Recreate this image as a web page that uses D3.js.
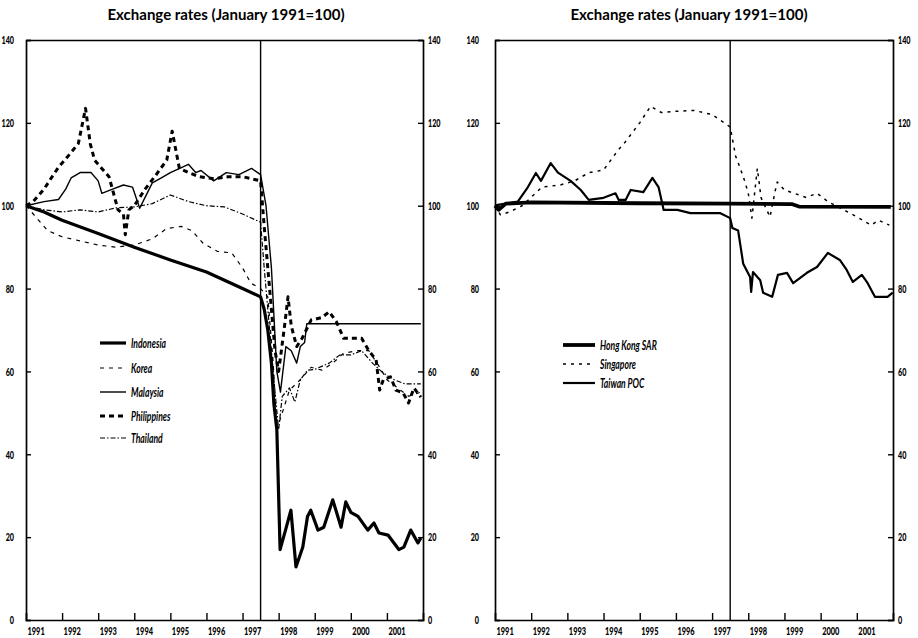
<!DOCTYPE html>
<html>
<head>
<meta charset="utf-8">
<script src="https://cdn.jsdelivr.net/npm/d3@7"></script>
<style>
  body { margin: 0; background: #fff; }
  svg { display: block; }
  .title { font-family: Lato, "Open Sans", sans-serif; font-weight: 700; font-size: 15px; }
  .tick text { font-family: Lato, sans-serif; font-weight: 900; font-size: 12px; fill: #000; }
  .legend text { font-family: Lato, sans-serif; font-style: italic; font-weight: 700; font-size: 13px; }
</style>
</head>
<body>
<script>
// year ticks and y ticks
var years = [1991, 1992, 1993, 1994, 1995, 1996, 1997, 1998, 1999, 2000, 2001];
var yTicks = [0, 20, 40, 60, 80, 100, 120, 140];
var crisisDate = 1997.5;

// left panel series  [year, index]
var indonesia = [[1991.0,100],[1991.5,98.5],[1992.0,96.5],[1993.0,93.3],[1994.0,90],[1995.0,86.9],[1996.0,84],
  [1996.5,82],[1997.0,80],[1997.5,78],[1997.6,75],[1997.7,70],[1997.8,62],[1997.87,52],[1997.95,46],[1998.04,17],
  [1998.2,22],[1998.34,26.5],[1998.48,12.8],[1998.67,17.6],[1998.8,25],[1998.89,26.5],[1999.09,21.7],[1999.25,22.4],
  [1999.5,29],[1999.73,22.4],[1999.86,28.5],[2000.0,26],[2000.2,25],[2000.47,21.7],[2000.64,23.4],[2000.78,21],
  [2001.03,20.5],[2001.33,17],[2001.47,17.6],[2001.66,21.7],[2001.86,18.6],[2001.94,19.8]];
var korea = [[1991.0,100],[1991.3,97],[1991.6,94],[1992.0,92.5],[1992.5,91.5],[1993.0,90.5],[1993.5,90],[1994.0,90.5],
  [1994.5,92],[1994.9,94.5],[1995.3,95],[1995.6,94],[1995.9,91],[1996.3,89],[1996.7,88.6],[1997.0,85],[1997.23,81.3],
  [1997.5,80],[1997.7,78],[1997.85,62],[1997.95,46],[1998.1,50],[1998.3,55.5],[1998.6,58],[1998.9,61],[1999.2,60.3],
  [1999.5,62],[1999.8,64.4],[2000.2,65],[2000.5,65],[2000.8,61],[2001.0,58],[2001.3,56],[2001.6,54],[2001.94,55]];
var malaysia = [[1991.0,100],[1991.5,101],[1991.9,101.5],[1992.1,104],[1992.25,106.7],[1992.5,108],[1992.8,108],
  [1993.0,106],[1993.1,103],[1993.4,104],[1993.7,105],[1993.95,104.5],[1994.15,99.4],[1994.3,102],[1994.5,105.5],
  [1994.75,106.7],[1995.0,108],[1995.5,110],[1995.7,108],[1995.85,108.5],[1996.2,106],[1996.55,108],[1996.9,107.5],
  [1997.25,109],[1997.5,107.5],[1997.65,100],[1997.8,85],[1997.95,60],[1998.05,55],[1998.2,66],[1998.35,65],
  [1998.5,62],[1998.6,66],[1998.72,67],[1998.78,71.5],[2001.94,71.5]];
var philippines = [[1991.0,100],[1991.2,101],[1991.5,104],[1991.7,106.7],[1991.9,109.3],[1992.15,111.8],[1992.45,115],
  [1992.65,123.5],[1992.78,115],[1992.9,111],[1993.1,109],[1993.3,107],[1993.55,99],[1993.7,98],[1993.75,93],
  [1993.85,99],[1994.0,100],[1994.3,104],[1994.6,107.4],[1994.9,111],[1995.05,118],[1995.25,109],[1995.5,108],
  [1995.8,107],[1996.2,106.5],[1996.6,107],[1997.0,107],[1997.5,106],[1997.6,95],[1997.75,80],[1997.9,65],[1998.0,60],
  [1998.15,70],[1998.26,78],[1998.35,71],[1998.5,66],[1998.65,68],[1998.9,72.4],[1999.2,73],[1999.4,74.4],[1999.6,72],
  [1999.8,68],[2000.0,68],[2000.3,68],[2000.5,65],[2000.7,62.8],[2000.8,55.5],[2000.9,58],[2001.1,58.7],[2001.25,55.5],
  [2001.45,54.8],[2001.6,52.4],[2001.75,56],[2001.94,53.8]];
var thailand = [[1991.0,100],[1991.5,99],[1992.0,98.5],[1992.5,99],[1993.0,98.5],[1993.5,99.5],[1994.0,99.7],
  [1994.5,100.5],[1995.0,102.6],[1995.5,101],[1996.0,100],[1996.5,99.7],[1997.0,98],[1997.5,96],[1997.6,85],
  [1997.75,70],[1997.9,55],[1998.0,46],[1998.1,54],[1998.3,56],[1998.45,52.6],[1998.6,58],[1998.8,60.3],[1999.0,60.5],
  [1999.4,62],[1999.7,64],[2000.0,64],[2000.3,65],[2000.6,62],[2000.9,59.6],[2001.2,58],[2001.5,57],[2001.94,57]];

// right panel series
var hongKong = [[1991.0,100],[1991.1,99],[1991.3,100.5],[1992.0,100.8],[1995.0,100.6],[1997.5,100.5],[1999.2,100.4],
  [1999.4,99.8],[2001.94,99.7]];
var singapore = [[1991.0,100],[1991.15,97.8],[1991.4,98.5],[1991.75,100],[1992.3,104.5],[1992.8,105],[1993.2,106],
  [1993.6,108],[1994.0,108.6],[1994.4,113.4],[1994.6,115.4],[1995.0,120],[1995.3,124],[1995.6,122.5],[1996.0,122.8],
  [1996.5,123],[1997.0,122],[1997.5,119],[1997.65,112],[1997.78,109],[1997.9,106],[1998.0,103],[1998.1,97],[1998.25,109],
  [1998.3,105.7],[1998.35,102],[1998.6,97.3],[1998.75,103.8],[1998.8,105.7],[1999.0,103.8],[1999.6,102],[1999.9,103],
  [2000.2,101],[2000.9,97.8],[2001.4,95.3],[2001.6,96.5],[2001.9,95.3]];
var taiwan = [[1991.0,100],[1991.08,100.2],[1991.63,101],[1991.91,104.5],[1992.13,107.9],[1992.27,106],[1992.54,110.3],
  [1992.74,108],[1993.09,106],[1993.37,103.8],[1993.59,101.4],[1994.0,101.9],[1994.33,103],[1994.42,101.4],
  [1994.61,101.4],[1994.75,103.8],[1995.1,103.3],[1995.35,106.7],[1995.52,104.5],[1995.66,99],[1996.04,99],
  [1996.4,98.2],[1996.95,98.2],[1997.23,98.2],[1997.5,97],[1997.56,94.6],[1997.72,94],[1997.86,86],[1998.05,82.8],
  [1998.08,79.2],[1998.13,84],[1998.33,82],[1998.41,79],[1998.66,78],[1998.82,83.3],[1999.07,83.8],[1999.24,81.3],
  [1999.62,83.8],[1999.9,85.2],[2000.2,88.6],[2000.53,86.9],[2000.72,84.5],[2000.89,81.6],[2001.14,83.3],[2001.3,81.3],
  [2001.5,78],[2001.85,78],[2001.99,79]];

var svg = d3.select("body").append("svg")
    .attr("width", 918)
    .attr("height", 638);

function drawPanel(p){
    var g = svg.append("g");
    var x = d3.scaleLinear().domain([1991, 2002]).range([p.left, p.right]);
    var y = d3.scaleLinear().domain([0, 140]).range([620, 40]);

    g.append("text").attr("class", "title")
        .attr("x", p.titleX).attr("y", 20)
        .attr("text-anchor", "middle")
        .text("Exchange rates (January 1991=100)");

    // axes, ticks inside; narrow the labels like the printed original
    var bottom = g.append("g").attr("transform", "translate(0,620)")
        .call(d3.axisBottom(x).tickValues(years).tickSize(-7).tickFormat(d3.format("d")));
    bottom.selectAll(".tick text").attr("text-anchor", "start")
        .attr("transform", "translate(1,6) scale(0.62,1)").attr("y", 0).attr("dy", "0.71em");
    bottom.selectAll(".tick").filter(function(d){ return d === 1991; }).select("line").remove();

    var la = g.append("g").attr("transform", "translate(" + p.left + ",0)")
        .call(d3.axisLeft(y).tickValues(yTicks).tickSize(-5).tickFormat(d3.format("d")));
    la.selectAll(".tick text").attr("x", null)
        .attr("transform", "translate(" + (-p.leftPad) + ",0) scale(0.6,1)");
    var ra = g.append("g").attr("transform", "translate(" + p.right + ",0)")
        .call(d3.axisRight(y).tickValues(yTicks).tickSize(-5).tickFormat(d3.format("d")));
    ra.selectAll(".tick text").attr("x", null)
        .attr("transform", "translate(5,0) scale(0.6,1)");
    g.append("g").attr("transform", "translate(0,40)")
        .call(d3.axisTop(x).tickValues([]).tickSizeOuter(0));

    g.selectAll(".domain").attr("stroke", "#000").attr("stroke-width", 1.7);
    g.selectAll(".tick line").attr("stroke", "#000").attr("stroke-width", 1.4);

    // July 1997 marker
    g.append("line")
        .attr("x1", x(crisisDate)).attr("x2", x(crisisDate))
        .attr("y1", y(140)).attr("y2", y(0))
        .attr("stroke", "#000").attr("stroke-width", 1.4);

    var line = d3.line().x(function(d){ return x(d[0]); }).y(function(d){ return y(d[1]); });

    p.series.forEach(function(s){
        g.append("path").datum(s.data)
            .attr("d", line)
            .attr("fill", "none")
            .attr("stroke", "#000")
            .attr("stroke-width", s.w)
            .attr("stroke-dasharray", s.dash || null)
            .attr("stroke-linejoin", "round");
    });

    var leg = g.append("g").attr("class", "legend");
    p.series.forEach(function(s, i){
        var ly = p.legendY[i];
        leg.append("line")
            .attr("x1", p.legendX).attr("x2", p.legendX + p.legendLen)
            .attr("y1", ly).attr("y2", ly)
            .attr("stroke", "#000").attr("stroke-width", s.w)
            .attr("stroke-dasharray", s.dash || null);
        leg.append("text")
            .attr("transform", "translate(" + (p.legendX + p.legendLen + 5) + "," + (ly + 4.5) + ") scale(0.66,1)")
            .text(s.name);
    });
}

drawPanel({
    left: 26, right: 423, titleX: 226, leftPad: 12,
    legendX: 100, legendLen: 26, legendY: [343, 368, 392, 416, 438],
    series: [
        {name: "Indonesia", data: indonesia, w: 3.2},
        {name: "Korea", data: korea, w: 1.2, dash: "4,5"},
        {name: "Malaysia", data: malaysia, w: 1.4},
        {name: "Philippines", data: philippines, w: 3, dash: "5,4"},
        {name: "Thailand", data: thailand, w: 1.2, dash: "5,2,1.5,2"}
    ]
});

drawPanel({
    left: 495, right: 893, titleX: 689, leftPad: 16,
    legendX: 563, legendLen: 32, legendY: [345, 364, 383],
    series: [
        {name: "Hong Kong SAR", data: hongKong, w: 3.8},
        {name: "Singapore", data: singapore, w: 1.5, dash: "3,5"},
        {name: "Taiwan POC", data: taiwan, w: 2.2}
    ]
});
</script>
</body>
</html>
